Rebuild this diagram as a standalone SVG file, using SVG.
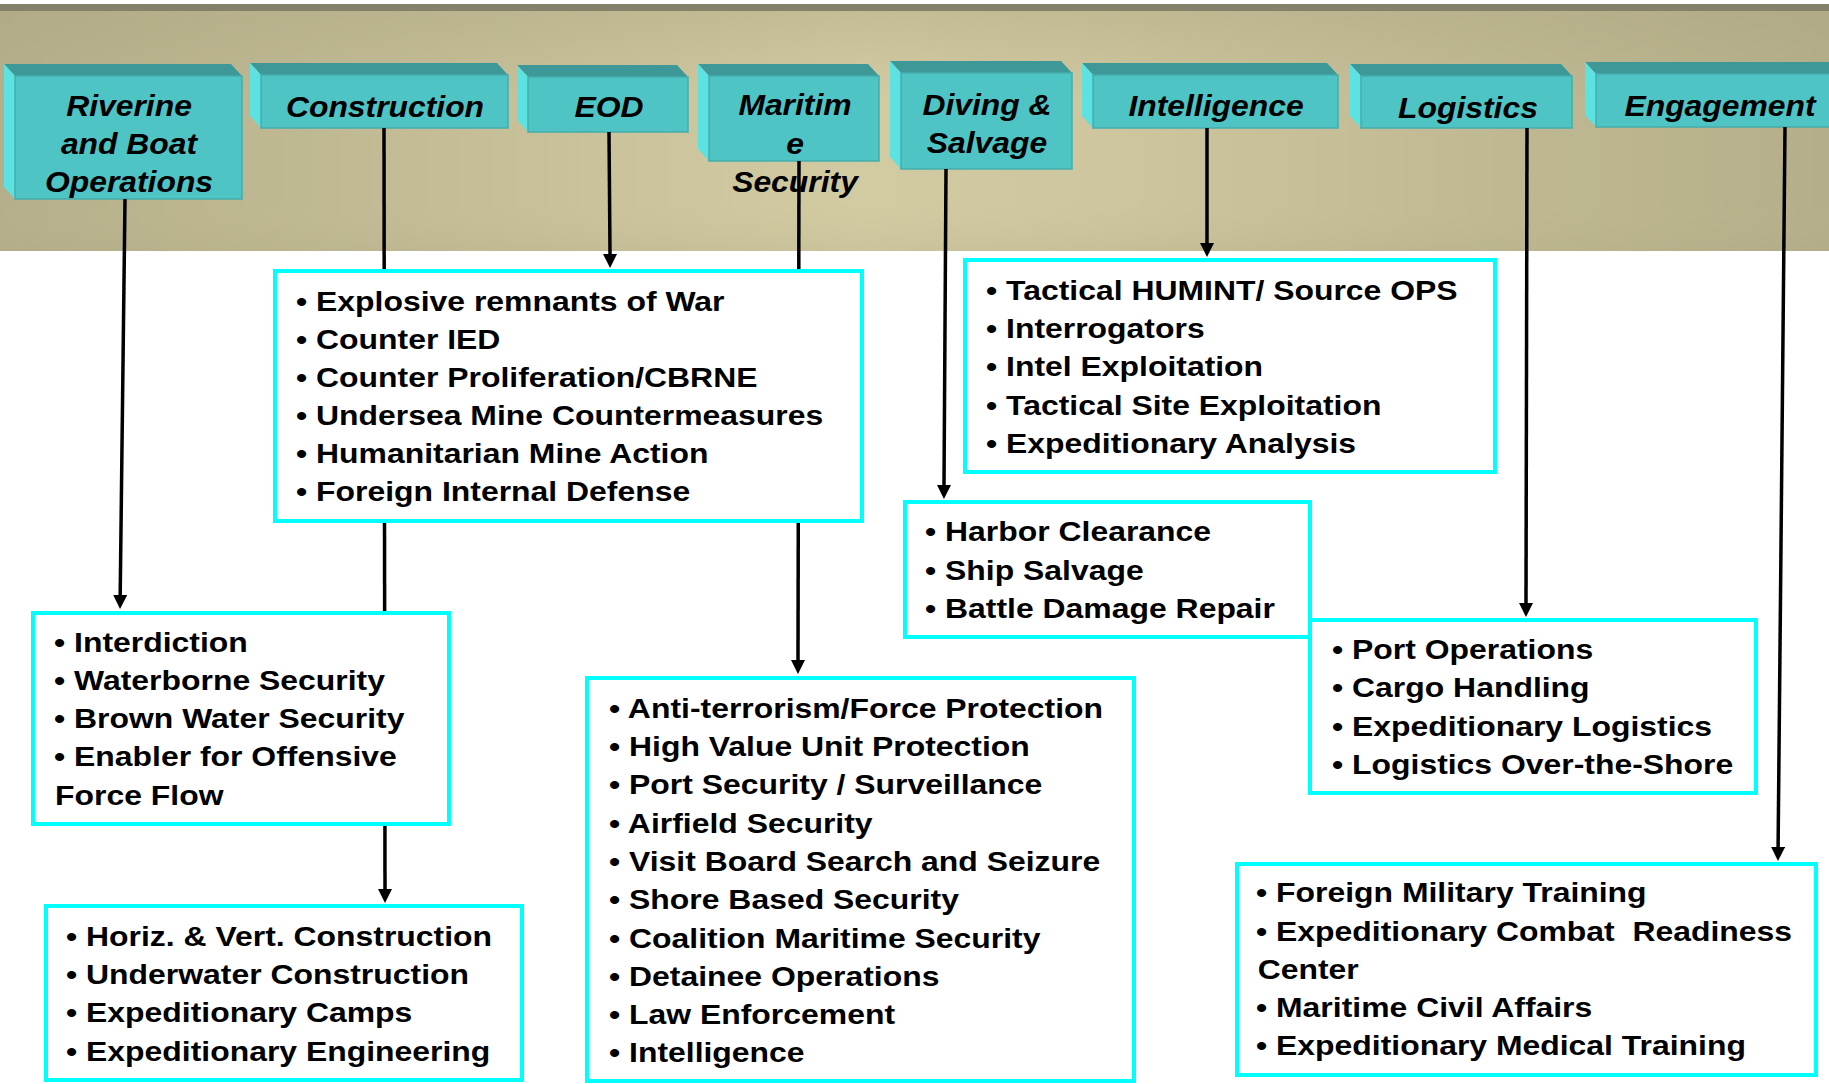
<svg xmlns="http://www.w3.org/2000/svg" width="1829" height="1084" viewBox="0 0 1829 1084">
<defs>
  <linearGradient id="bg" x1="0" y1="0" x2="1" y2="0">
    <stop offset="0" stop-color="#b5af8b"/>
    <stop offset="0.47" stop-color="#d2cba2"/>
    <stop offset="0.6" stop-color="#cdc69e"/>
    <stop offset="1" stop-color="#b4ae8a"/>
  </linearGradient>
  <linearGradient id="bgv" x1="0" y1="0" x2="0" y2="1">
    <stop offset="0" stop-color="#a9a37f" stop-opacity="0.35"/>
    <stop offset="0.35" stop-color="#a9a37f" stop-opacity="0"/>
    <stop offset="0.8" stop-color="#c6bf98" stop-opacity="0"/>
    <stop offset="1" stop-color="#a9a37f" stop-opacity="0.2"/>
  </linearGradient>
  <marker id="arrow" markerUnits="userSpaceOnUse" markerWidth="14" markerHeight="14" viewBox="0 0 14 14" refX="0" refY="7" orient="auto">
    <path d="M0,0 L14,7 L0,14 z" fill="#000"/>
  </marker>
  <style>
    .bt { fill: #3e9898; }
    .bl { fill: #5de2e2; }
    .bf { fill: #4ec4c4; stroke: #44adad; stroke-width: 1.5; }
    .hd { font-family: "Liberation Sans", Arial, sans-serif; font-weight: bold; font-style: italic; font-size: 29.5px; text-anchor: middle; fill: #000; }
    .box { fill: #fff; stroke: #00ffff; stroke-width: 4; }
    .li { font-family: "Liberation Sans", Arial, sans-serif; font-weight: bold; font-size: 28.5px; fill: #000; }
    .con { fill: none; stroke: #000; stroke-width: 3.5; marker-end: url(#arrow); }
  </style>
</defs>

<rect x="0" y="0" width="1829" height="1084" fill="#ffffff"/>

<g id="banner">
  <rect x="0" y="4" width="1829" height="8" fill="#858069"/>
  <rect x="0" y="11" width="1829" height="240" fill="url(#bg)"/>
  <rect x="0" y="11" width="1829" height="240" fill="url(#bgv)"/>
</g>

<g id="h-riverine">
  <polygon class="bt" points="4,64 231,64 242,76 15,76"/>
  <polygon class="bl" points="4,64 15,76 15,199 4,187"/>
  <rect class="bf" x="15" y="76" width="227" height="123"/>
  <g transform="translate(129,0) scale(1.08,1)"><text class="hd"><tspan x="0" y="116">Riverine</tspan><tspan x="0" y="154">and Boat</tspan><tspan x="0" y="192">Operations</tspan></text></g>
</g>
<g id="h-construction">
  <polygon class="bt" points="250,63 497,63 508,75 261,75"/>
  <polygon class="bl" points="250,63 261,75 261,128 250,116"/>
  <rect class="bf" x="261" y="75" width="247" height="53"/>
  <g transform="translate(385,0) scale(1.08,1)"><text class="hd" x="0" y="117">Construction</text></g>
</g>
<g id="h-eod">
  <polygon class="bt" points="517,65 677,65 688,77 528,77"/>
  <polygon class="bl" points="517,65 528,77 528,132 517,120"/>
  <rect class="bf" x="528" y="77" width="160" height="55"/>
  <g transform="translate(609,0) scale(1.08,1)"><text class="hd" x="0" y="117">EOD</text></g>
</g>
<g id="h-maritime">
  <polygon class="bt" points="698,64 868,64 879,76 709,76"/>
  <polygon class="bl" points="698,64 709,76 709,161 698,149"/>
  <rect class="bf" x="709" y="76" width="170" height="85"/>
  <g transform="translate(795,0) scale(1.08,1)"><text class="hd"><tspan x="0" y="115">Maritim</tspan><tspan x="0" y="154">e</tspan><tspan x="0" y="192">Security</tspan></text></g>
</g>
<g id="h-diving">
  <polygon class="bt" points="890,61 1061,61 1072,73 901,73"/>
  <polygon class="bl" points="890,61 901,73 901,169 890,157"/>
  <rect class="bf" x="901" y="73" width="171" height="96"/>
  <g transform="translate(987,0) scale(1.08,1)"><text class="hd"><tspan x="0" y="115">Diving &amp;</tspan><tspan x="0" y="153">Salvage</tspan></text></g>
</g>
<g id="h-intelligence">
  <polygon class="bt" points="1082,63 1327,63 1338,75 1093,75"/>
  <polygon class="bl" points="1082,63 1093,75 1093,128 1082,116"/>
  <rect class="bf" x="1093" y="75" width="245" height="53"/>
  <g transform="translate(1216,0) scale(1.08,1)"><text class="hd" x="0" y="116">Intelligence</text></g>
</g>
<g id="h-logistics">
  <polygon class="bt" points="1350,64 1561,64 1572,76 1361,76"/>
  <polygon class="bl" points="1350,64 1361,76 1361,128 1350,116"/>
  <rect class="bf" x="1361" y="76" width="211" height="52"/>
  <g transform="translate(1468,0) scale(1.08,1)"><text class="hd" x="0" y="118">Logistics</text></g>
</g>
<g id="h-engagement">
  <polygon class="bt" points="1585,62 1834,62 1845,74 1596,74"/>
  <polygon class="bl" points="1585,62 1596,74 1596,127 1585,115"/>
  <rect class="bf" x="1596" y="74" width="249" height="53"/>
  <g transform="translate(1720,0) scale(1.08,1)"><text class="hd" x="0" y="116">Engagement</text></g>
</g>

<g id="connectors">
  <line class="con" x1="125" y1="199" x2="120.2" y2="595"/>
  <line class="con" x1="384" y1="128" x2="385" y2="889"/>
  <line class="con" x1="609" y1="132" x2="610" y2="254"/>
  <line class="con" x1="799" y1="161" x2="798" y2="660"/>
  <line class="con" x1="946" y1="169" x2="944" y2="485"/>
  <line class="con" x1="1207" y1="128" x2="1207" y2="243"/>
  <line class="con" x1="1527" y1="128" x2="1526" y2="603"/>
  <line class="con" x1="1785" y1="127" x2="1778.1" y2="847"/>
</g>

<g id="n-eod">
  <rect class="box" x="275" y="271" width="587" height="250"/>
  <g transform="translate(296,0) scale(1.12,1)">
    <text class="li">
      <tspan x="0" y="311">• Explosive remnants of War</tspan>
      <tspan x="0" y="349">• Counter IED</tspan>
      <tspan x="0" y="387">• Counter Proliferation/CBRNE</tspan>
      <tspan x="0" y="425">• Undersea Mine Countermeasures</tspan>
      <tspan x="0" y="463">• Humanitarian Mine Action</tspan>
      <tspan x="0" y="501">• Foreign Internal Defense</tspan>
    </text>
  </g>
</g>

<g id="n-intelligence">
  <rect class="box" x="965" y="260" width="530" height="212"/>
  <g transform="translate(986,0) scale(1.12,1)">
    <text class="li">
      <tspan x="0" y="300">• Tactical HUMINT/ Source OPS</tspan>
      <tspan x="0" y="338">• Interrogators</tspan>
      <tspan x="0" y="376">• Intel Exploitation</tspan>
      <tspan x="0" y="415">• Tactical Site Exploitation</tspan>
      <tspan x="0" y="453">• Expeditionary Analysis</tspan>
    </text>
  </g>
</g>

<g id="n-diving">
  <rect class="box" x="905" y="502" width="405" height="135"/>
  <g transform="translate(925,0) scale(1.12,1)">
    <text class="li">
      <tspan x="0" y="541">• Harbor Clearance</tspan>
      <tspan x="0" y="580">• Ship Salvage</tspan>
      <tspan x="0" y="618">• Battle Damage Repair</tspan>
    </text>
  </g>
</g>

<g id="n-logistics">
  <rect class="box" x="1310" y="620" width="446" height="173"/>
  <g transform="translate(1332,0) scale(1.12,1)">
    <text class="li">
      <tspan x="0" y="659">• Port Operations</tspan>
      <tspan x="0" y="697">• Cargo Handling</tspan>
      <tspan x="0" y="736">• Expeditionary Logistics</tspan>
      <tspan x="0" y="774">• Logistics Over-the-Shore</tspan>
    </text>
  </g>
</g>

<g id="n-riverine">
  <rect class="box" x="33" y="613" width="416" height="211"/>
  <g transform="translate(54,0) scale(1.12,1)">
    <text class="li">
      <tspan x="0" y="652">• Interdiction</tspan>
      <tspan x="0" y="690">• Waterborne Security</tspan>
      <tspan x="0" y="728">• Brown Water Security</tspan>
      <tspan x="0" y="766">• Enabler for Offensive</tspan>
      <tspan x="1" y="805">Force Flow</tspan>
    </text>
  </g>
</g>

<g id="n-construction">
  <rect class="box" x="46" y="906" width="476" height="174"/>
  <g transform="translate(66,0) scale(1.12,1)">
    <text class="li">
      <tspan x="0" y="946">• Horiz. &amp; Vert. Construction</tspan>
      <tspan x="0" y="984">• Underwater Construction</tspan>
      <tspan x="0" y="1022">• Expeditionary Camps</tspan>
      <tspan x="0" y="1061">• Expeditionary Engineering</tspan>
    </text>
  </g>
</g>

<g id="n-maritime">
  <rect class="box" x="587" y="678" width="547" height="403"/>
  <g transform="translate(609,0) scale(1.12,1)">
    <text class="li">
      <tspan x="0" y="718">• Anti-terrorism/Force Protection</tspan>
      <tspan x="0" y="756">• High Value Unit Protection</tspan>
      <tspan x="0" y="794">• Port Security / Surveillance</tspan>
      <tspan x="0" y="833">• Airfield Security</tspan>
      <tspan x="0" y="871">• Visit Board Search and Seizure</tspan>
      <tspan x="0" y="909">• Shore Based Security</tspan>
      <tspan x="0" y="948">• Coalition Maritime Security</tspan>
      <tspan x="0" y="986">• Detainee Operations</tspan>
      <tspan x="0" y="1024">• Law Enforcement</tspan>
      <tspan x="0" y="1062">• Intelligence</tspan>
    </text>
  </g>
</g>

<g id="n-engagement">
  <rect class="box" x="1237" y="864" width="579" height="211"/>
  <g transform="translate(1256,0) scale(1.12,1)">
    <text class="li" style="white-space:pre">
      <tspan x="0" y="902">• Foreign Military Training</tspan>
      <tspan x="0" y="941">• Expeditionary Combat  Readiness</tspan>
      <tspan x="1.5" y="979">Center</tspan>
      <tspan x="0" y="1017">• Maritime Civil Affairs</tspan>
      <tspan x="0" y="1055">• Expeditionary Medical Training</tspan>
    </text>
  </g>
</g>
</svg>
